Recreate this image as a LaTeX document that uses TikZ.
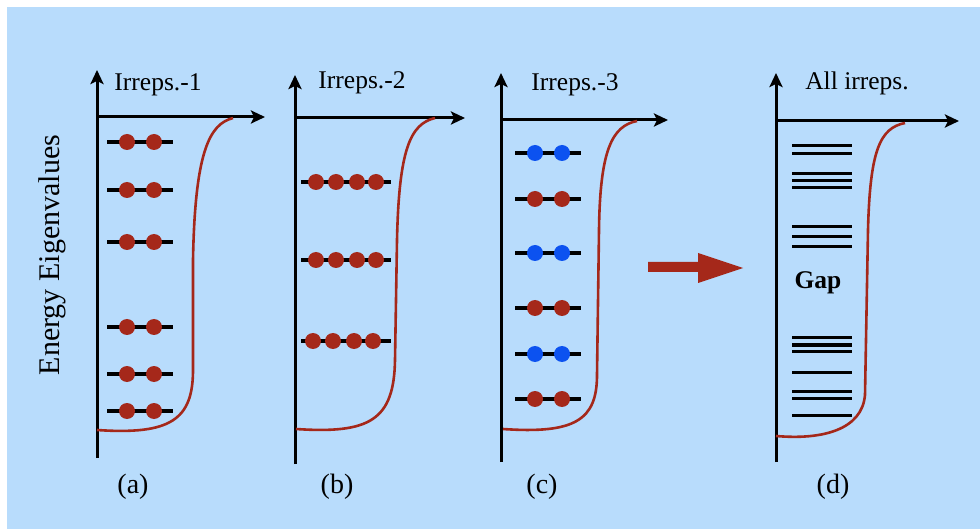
\documentclass[tikz,border=0pt]{standalone}
\usepackage{fontspec}
\setmainfont{Liberation Serif}
\usetikzlibrary{arrows.meta}
\definecolor{bgblue}{RGB}{184,220,252}
\definecolor{lvred}{RGB}{165,40,26}
\definecolor{lvblue}{RGB}{12,82,240}
\tikzset{
  axis/.style={line width=3pt,-{Stealth[length=14pt,width=13pt,inset=3pt]}},
  level/.style={line width=3.4pt},
  curve/.style={line width=2.6pt,lvred},
  rdot/.style={circle,fill=lvred,inner sep=0pt,minimum size=16pt},
  bdot/.style={circle,fill=lvblue,inner sep=0pt,minimum size=16pt},
  ttl/.style={font=\fontsize{25.5}{28}\selectfont,inner sep=0pt},
  lbl/.style={font=\fontsize{28}{30}\selectfont,inner sep=0pt},
}
\begin{document}
\begin{tikzpicture}[x=1pt,y=-1pt]
\useasboundingbox (0,0) rectangle (980,529);
\fill[bgblue] (7,7) rectangle (980,529);

% y label
\node[lbl,font=\fontsize{30}{32}\selectfont,rotate=90] (ylab) at (52,255) {Energy Eigenvalues};

%================ panel (a)
\coordinate (aB) at (97,458);
\coordinate (aT) at (97,70);
\coordinate (aO) at (97,117);
\coordinate (aR) at (265,117);
\draw[axis] (aB) -- (aT);
\draw[axis] (aO) -- (aR);
\node[ttl] (ta) at (158,85) {Irreps.-1};
\node[lbl] (la) at (133,487) {(a)};
\foreach \y [count=\i] in {142,190,242,327,374,411}{
  \coordinate (aL\i) at (107,\y);
  \coordinate (aE\i) at (173,\y);
  \draw[level] (aL\i) -- (aE\i);
  \node[rdot] (ad\i a) at (127,\y) {};
  \node[rdot] (ad\i b) at (154,\y) {};
}
\draw[curve] (97,430) .. controls (170,435) and (193,420) .. (193,370)
  -- (193,260) .. controls (195,150) and (210,124) .. (233,118);

%================ panel (b)
\coordinate (bB) at (295,464);
\coordinate (bT) at (295,75);
\coordinate (bO) at (295,118);
\coordinate (bR) at (465,118);
\draw[axis] (bB) -- (bT);
\draw[axis] (bO) -- (bR);
\node[ttl] (tb) at (362,83) {Irreps.-2};
\node[lbl] (lb) at (337,487) {(b)};
\foreach \y/\s [count=\i] in {182/0,260/0,341/-3}{
  \coordinate (bL\i) at (301,\y);
  \coordinate (bE\i) at (391,\y);
  \draw[level] (bL\i) -- (bE\i);
  \foreach \x [count=\j] in {316,336,357,376}{
    \node[rdot] (bd\i\j) at (\x+\s,\y) {};
  }
}
\draw[curve] (296,429) .. controls (370,434) and (394,420) .. (395,360)
  -- (397,240) .. controls (399,150) and (410,124) .. (435,118);

%================ panel (c)
\coordinate (cB) at (501,462);
\coordinate (cT) at (501,73);
\coordinate (cO) at (501,120);
\coordinate (cR) at (668,120);
\draw[axis] (cB) -- (cT);
\draw[axis] (cO) -- (cR);
\node[ttl] (tc) at (575,85) {Irreps.-3};
\node[lbl] (lc) at (542,487) {(c)};
\foreach \y/\st [count=\i] in {153/bdot,199/rdot,253/bdot,308/rdot,354/bdot,399/rdot}{
  \coordinate (cL\i) at (515,\y);
  \coordinate (cE\i) at (581,\y);
  \draw[level] (cL\i) -- (cE\i);
  \node[\st] (cd\i a) at (535,\y) {};
  \node[\st] (cd\i b) at (562,\y) {};
}
\draw[curve] (503,429) .. controls (575,434) and (597,420) .. (597,375)
  -- (599,230) .. controls (600,150) and (612,126) .. (637,121);

%================ big arrow
\fill[lvred] (648,262) -- (698,262) -- (698,253) -- (743,268) -- (698,283) -- (698,272) -- (648,272) -- cycle;

%================ panel (d)
\coordinate (dB) at (776,462);
\coordinate (dT) at (776,73);
\coordinate (dO) at (776,121);
\coordinate (dR) at (959,121);
\draw[axis] (dB) -- (dT);
\draw[axis] (dO) -- (dR);
\node[ttl] (td) at (857,83) {All irreps.};
\node[lbl] (ld) at (833,487) {(d)};
\foreach \y [count=\i] in {145.7,153.3,173.3,180.7,187.3,226.7,236.7,246.7,337.3,345,351.7,372.7,391.7,398.3,415.7}{
  \coordinate (dL\i) at (792,\y);
  \coordinate (dE\i) at (852,\y);
  \draw[line width=3.3pt] (dL\i) -- (dE\i);
}
\node[ttl,font=\fontsize{25.5}{28}\selectfont\bfseries] (gap) at (818,283) {Gap};
\draw[curve] (776,436) .. controls (822,440) and (862,430) .. (865,395)
  -- (868,230) .. controls (870,150) and (880,128) .. (905,123);
\end{tikzpicture}
\end{document}
